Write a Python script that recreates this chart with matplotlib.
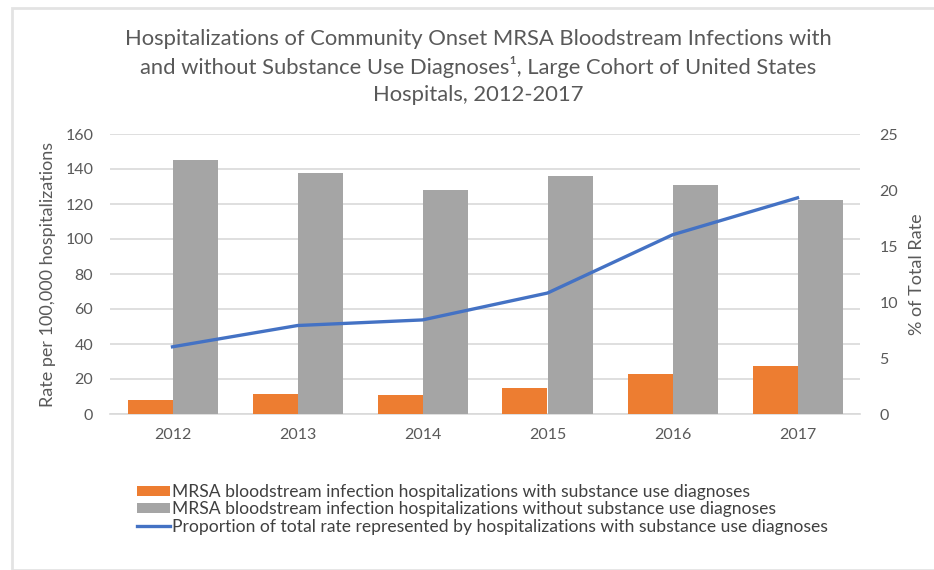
import matplotlib
matplotlib.use("Agg")
import matplotlib.pyplot as plt
from matplotlib.patches import Rectangle
from matplotlib.lines import Line2D
from matplotlib.patches import Patch
import numpy as np

plt.rcParams['font.family'] = ['Lato', 'DejaVu Sans']

years = ["2012", "2013", "2014", "2015", "2016", "2017"]
with_sud = [8.0, 11.5, 10.7, 14.7, 22.9, 27.5]
without_sud = [145, 138, 128, 136, 131, 122.5]
proportion = [6.0, 7.9, 8.4, 10.8, 16.0, 19.3]

labels = [
    "MRSA bloodstream infection hospitalizations with substance use diagnoses",
    "MRSA bloodstream infection hospitalizations without substance use diagnoses",
    "Proportion of total rate represented by hospitalizations with substance use diagnoses",
]
title = ("Hospitalizations of Community Onset MRSA Bloodstream Infections with\n"
         "and without Substance Use Diagnoses\u00b9, Large Cohort of United States\n"
         "Hospitals, 2012-2017")

c_orange = "#ED7D31"
c_gray = "#A5A5A5"
c_blue = "#4472C4"
c_text = "#595959"
c_grid = "#D9D9D9"

W, H = 934, 570
fig = plt.figure(figsize=(W / 100, H / 100), dpi=100)
fig.patch.set_facecolor("white")

# light frame
fig.add_artist(Rectangle((12 / W, 0), 1.0, (H - 8) / H, transform=fig.transFigure,
                         fill=False, edgecolor="#E3E3E3", linewidth=2.0))

ax = fig.add_axes([110 / W, (H - 414) / H, 750 / W, 280 / H])
x = np.arange(len(years))
bw = 0.36
ax.bar(x - bw / 2, with_sud, width=bw, color=c_orange, zorder=3)
ax.bar(x + bw / 2, without_sud, width=bw, color=c_gray, zorder=3)
ax.set_xlim(-0.5, len(years) - 0.5)
ax.set_ylim(0, 160)
ax.set_yticks(np.arange(0, 161, 20))
ax.yaxis.grid(True, color=c_grid, linewidth=1.2, zorder=0)
ax.set_axisbelow(True)
for s in ["top", "right", "left"]:
    ax.spines[s].set_visible(False)
ax.spines["bottom"].set_color(c_grid)
ax.spines["bottom"].set_linewidth(1.2)
ax.set_xticks(x)
ax.set_xticklabels(years)
ax.tick_params(axis="both", length=0, labelsize=11.5, colors=c_text)
ax.tick_params(axis="x", pad=10)
ax.tick_params(axis="y", pad=12)
ax.set_ylabel("Rate per 100,000 hospitalizations", fontsize=13, color=c_text, labelpad=7)

ax2 = ax.twinx()
ax2.plot(x, proportion, color=c_blue, linewidth=2.4, zorder=5)
ax2.set_ylim(0, 25)
ax2.set_yticks(np.arange(0, 26, 5))
for s in ax2.spines.values():
    s.set_visible(False)
ax2.tick_params(axis="y", length=0, labelsize=11.5, colors=c_text, pad=14)
ax2.set_ylabel("% of Total Rate", fontsize=13, color=c_text, labelpad=8)

fig.text(478 / W, 1 - 67 / H, title, ha="center", va="center", fontsize=15.8,
         color=c_text, linespacing=1.4)

handles = [Patch(facecolor=c_orange), Patch(facecolor=c_gray),
           Line2D([0], [0], color=c_blue, linewidth=2.4)]
fig.legend(handles, labels, loc="upper left", bbox_to_anchor=(128 / W, 1 - 475 / H),
           frameon=False, fontsize=12.6, labelcolor="#404040", handlelength=1.9,
           handleheight=0.5, handletextpad=0.1, labelspacing=0.08, borderpad=0)

fig.savefig("out.png", dpi=100, facecolor="white")
